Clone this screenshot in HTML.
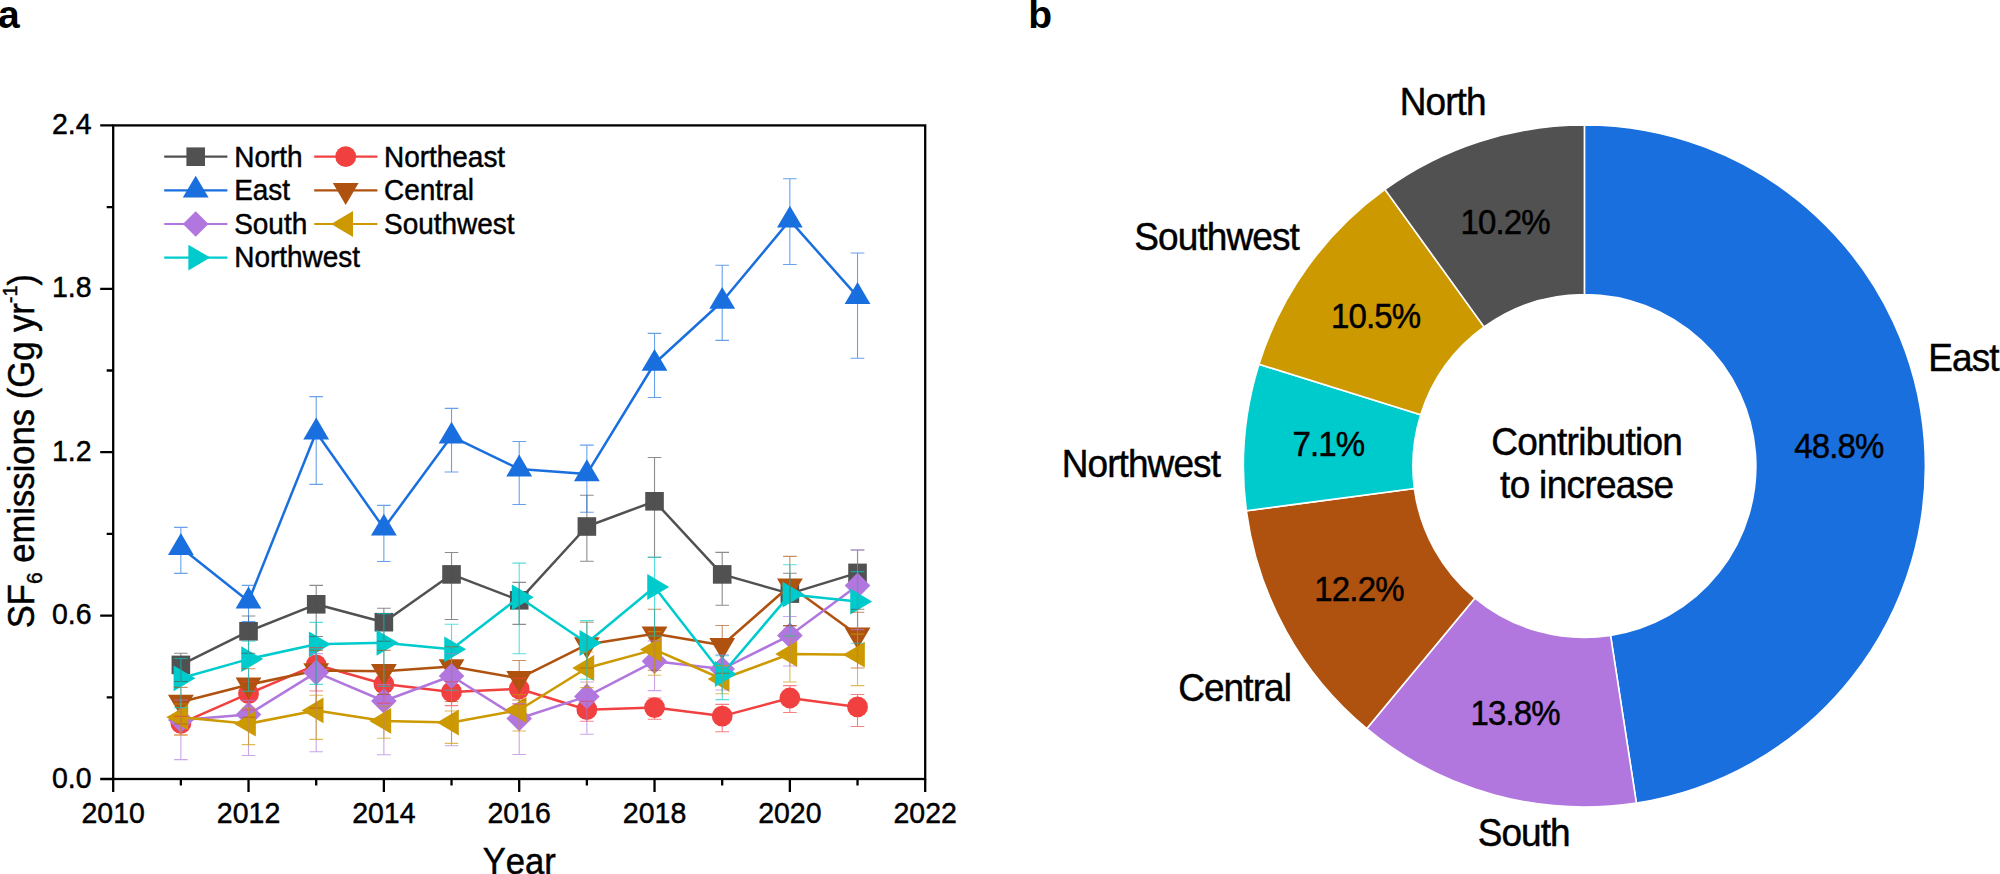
<!DOCTYPE html>
<html lang="en"><head><meta charset="utf-8"><title>SF6 emissions by region</title>
<style>
html,body{margin:0;padding:0;background:#fff;}
body{width:2000px;height:874px;overflow:hidden;}
svg{display:block;}
text{font-family:"Liberation Sans",Arial,Helvetica,sans-serif;fill:#000;font-kerning:none;stroke:#000;stroke-width:0.45px;}
.tk{font-size:28.5px;}
.lg{font-size:27.95px;}
.ax{font-size:34.6px;}
.pl{font-size:39px;font-weight:bold;stroke-width:0;}
.dl{font-size:37px;letter-spacing:-0.9px;}
.pc{font-size:33px;letter-spacing:-0.85px;text-anchor:middle;}
</style></head><body>
<svg width="2000" height="874" viewBox="0 0 2000 874">
<rect width="2000" height="874" fill="#fff"/>
<text class="pl" transform="translate(-1.9 27.7) scale(1 1)">a</text>
<text class="pl" transform="translate(1028.2 27.6) scale(1 1)">b</text>
<g id="chart-a">
<g><polyline points="180.87,664.90 248.53,631.30 316.20,604.30 383.87,622.20 451.53,574.40 519.20,600.30 586.87,526.50 654.53,501.30 722.20,574.40 789.87,593.60 857.53,572.90" fill="none" stroke="#515151" stroke-width="2.5" stroke-linejoin="round"/>
<rect x="171.57" y="655.60" width="18.6" height="18.6" fill="#515151"/>
<rect x="239.23" y="622.00" width="18.6" height="18.6" fill="#515151"/>
<rect x="306.90" y="595.00" width="18.6" height="18.6" fill="#515151"/>
<rect x="374.57" y="612.90" width="18.6" height="18.6" fill="#515151"/>
<rect x="442.23" y="565.10" width="18.6" height="18.6" fill="#515151"/>
<rect x="509.90" y="591.00" width="18.6" height="18.6" fill="#515151"/>
<rect x="577.57" y="517.20" width="18.6" height="18.6" fill="#515151"/>
<rect x="645.23" y="492.00" width="18.6" height="18.6" fill="#515151"/>
<rect x="712.90" y="565.10" width="18.6" height="18.6" fill="#515151"/>
<rect x="780.57" y="584.30" width="18.6" height="18.6" fill="#515151"/>
<rect x="848.23" y="563.60" width="18.6" height="18.6" fill="#515151"/>
</g>
<g><polyline points="180.87,723.40 248.53,693.70 316.20,664.80 383.87,684.00 451.53,691.90 519.20,688.80 586.87,709.70 654.53,707.60 722.20,716.10 789.87,698.00 857.53,706.90" fill="none" stroke="#F14040" stroke-width="2.5" stroke-linejoin="round"/>
<circle cx="180.87" cy="723.40" r="10.4" fill="#F14040"/>
<circle cx="248.53" cy="693.70" r="10.4" fill="#F14040"/>
<circle cx="316.20" cy="664.80" r="10.4" fill="#F14040"/>
<circle cx="383.87" cy="684.00" r="10.4" fill="#F14040"/>
<circle cx="451.53" cy="691.90" r="10.4" fill="#F14040"/>
<circle cx="519.20" cy="688.80" r="10.4" fill="#F14040"/>
<circle cx="586.87" cy="709.70" r="10.4" fill="#F14040"/>
<circle cx="654.53" cy="707.60" r="10.4" fill="#F14040"/>
<circle cx="722.20" cy="716.10" r="10.4" fill="#F14040"/>
<circle cx="789.87" cy="698.00" r="10.4" fill="#F14040"/>
<circle cx="857.53" cy="706.90" r="10.4" fill="#F14040"/>
</g>
<g><polyline points="180.87,547.60 248.53,601.20 316.20,432.20 383.87,528.30 451.53,436.30 519.20,469.10 586.87,473.90 654.53,363.50 722.20,301.50 789.87,220.30 857.53,296.70" fill="none" stroke="#1A6FDF" stroke-width="2.5" stroke-linejoin="round"/>
<polygon points="180.87,533.00 193.77,554.90 167.97,554.90" fill="#1A6FDF"/>
<polygon points="248.53,586.60 261.43,608.50 235.63,608.50" fill="#1A6FDF"/>
<polygon points="316.20,417.60 329.10,439.50 303.30,439.50" fill="#1A6FDF"/>
<polygon points="383.87,513.70 396.77,535.60 370.97,535.60" fill="#1A6FDF"/>
<polygon points="451.53,421.70 464.43,443.60 438.63,443.60" fill="#1A6FDF"/>
<polygon points="519.20,454.50 532.10,476.40 506.30,476.40" fill="#1A6FDF"/>
<polygon points="586.87,459.30 599.77,481.20 573.97,481.20" fill="#1A6FDF"/>
<polygon points="654.53,348.90 667.43,370.80 641.63,370.80" fill="#1A6FDF"/>
<polygon points="722.20,286.90 735.10,308.80 709.30,308.80" fill="#1A6FDF"/>
<polygon points="789.87,205.70 802.77,227.60 776.97,227.60" fill="#1A6FDF"/>
<polygon points="857.53,282.10 870.43,304.00 844.63,304.00" fill="#1A6FDF"/>
</g>
<g><polyline points="180.87,702.00 248.53,684.80 316.20,670.50 383.87,671.30 451.53,666.50 519.20,678.40 586.87,644.60 654.53,633.70 722.20,645.30 789.87,585.70 857.53,634.90" fill="none" stroke="#B0520F" stroke-width="2.5" stroke-linejoin="round"/>
<polygon points="180.87,716.60 193.77,694.70 167.97,694.70" fill="#B0520F"/>
<polygon points="248.53,699.40 261.43,677.50 235.63,677.50" fill="#B0520F"/>
<polygon points="316.20,685.10 329.10,663.20 303.30,663.20" fill="#B0520F"/>
<polygon points="383.87,685.90 396.77,664.00 370.97,664.00" fill="#B0520F"/>
<polygon points="451.53,681.10 464.43,659.20 438.63,659.20" fill="#B0520F"/>
<polygon points="519.20,693.00 532.10,671.10 506.30,671.10" fill="#B0520F"/>
<polygon points="586.87,659.20 599.77,637.30 573.97,637.30" fill="#B0520F"/>
<polygon points="654.53,648.30 667.43,626.40 641.63,626.40" fill="#B0520F"/>
<polygon points="722.20,659.90 735.10,638.00 709.30,638.00" fill="#B0520F"/>
<polygon points="789.87,600.30 802.77,578.40 776.97,578.40" fill="#B0520F"/>
<polygon points="857.53,649.50 870.43,627.60 844.63,627.60" fill="#B0520F"/>
</g>
<g><polyline points="180.87,720.10 248.53,714.50 316.20,672.40 383.87,701.00 451.53,676.00 519.20,718.50 586.87,696.40 654.53,661.30 722.20,669.00 789.87,635.40 857.53,585.60" fill="none" stroke="#B177DE" stroke-width="2.5" stroke-linejoin="round"/>
<polygon points="180.87,707.30 193.67,720.10 180.87,732.90 168.07,720.10" fill="#B177DE"/>
<polygon points="248.53,701.70 261.33,714.50 248.53,727.30 235.73,714.50" fill="#B177DE"/>
<polygon points="316.20,659.60 329.00,672.40 316.20,685.20 303.40,672.40" fill="#B177DE"/>
<polygon points="383.87,688.20 396.67,701.00 383.87,713.80 371.07,701.00" fill="#B177DE"/>
<polygon points="451.53,663.20 464.33,676.00 451.53,688.80 438.73,676.00" fill="#B177DE"/>
<polygon points="519.20,705.70 532.00,718.50 519.20,731.30 506.40,718.50" fill="#B177DE"/>
<polygon points="586.87,683.60 599.67,696.40 586.87,709.20 574.07,696.40" fill="#B177DE"/>
<polygon points="654.53,648.50 667.33,661.30 654.53,674.10 641.73,661.30" fill="#B177DE"/>
<polygon points="722.20,656.20 735.00,669.00 722.20,681.80 709.40,669.00" fill="#B177DE"/>
<polygon points="789.87,622.60 802.67,635.40 789.87,648.20 777.07,635.40" fill="#B177DE"/>
<polygon points="857.53,572.80 870.33,585.60 857.53,598.40 844.73,585.60" fill="#B177DE"/>
</g>
<g><polyline points="180.87,717.30 248.53,723.70 316.20,710.40 383.87,720.90 451.53,722.50 519.20,710.00 586.87,668.00 654.53,649.60 722.20,679.00 789.87,654.00 857.53,654.70" fill="none" stroke="#CC9900" stroke-width="2.5" stroke-linejoin="round"/>
<polygon points="166.27,717.30 188.17,704.40 188.17,730.20" fill="#CC9900"/>
<polygon points="233.93,723.70 255.83,710.80 255.83,736.60" fill="#CC9900"/>
<polygon points="301.60,710.40 323.50,697.50 323.50,723.30" fill="#CC9900"/>
<polygon points="369.27,720.90 391.17,708.00 391.17,733.80" fill="#CC9900"/>
<polygon points="436.93,722.50 458.83,709.60 458.83,735.40" fill="#CC9900"/>
<polygon points="504.60,710.00 526.50,697.10 526.50,722.90" fill="#CC9900"/>
<polygon points="572.27,668.00 594.17,655.10 594.17,680.90" fill="#CC9900"/>
<polygon points="639.93,649.60 661.83,636.70 661.83,662.50" fill="#CC9900"/>
<polygon points="707.60,679.00 729.50,666.10 729.50,691.90" fill="#CC9900"/>
<polygon points="775.27,654.00 797.17,641.10 797.17,666.90" fill="#CC9900"/>
<polygon points="842.93,654.70 864.83,641.80 864.83,667.60" fill="#CC9900"/>
</g>
<g><polyline points="180.87,678.30 248.53,659.10 316.20,644.30 383.87,642.80 451.53,649.30 519.20,597.30 586.87,643.00 654.53,587.00 722.20,674.00 789.87,594.60 857.53,601.50" fill="none" stroke="#00CBCC" stroke-width="2.5" stroke-linejoin="round"/>
<polygon points="195.47,678.30 173.57,665.40 173.57,691.20" fill="#00CBCC"/>
<polygon points="263.13,659.10 241.23,646.20 241.23,672.00" fill="#00CBCC"/>
<polygon points="330.80,644.30 308.90,631.40 308.90,657.20" fill="#00CBCC"/>
<polygon points="398.47,642.80 376.57,629.90 376.57,655.70" fill="#00CBCC"/>
<polygon points="466.13,649.30 444.23,636.40 444.23,662.20" fill="#00CBCC"/>
<polygon points="533.80,597.30 511.90,584.40 511.90,610.20" fill="#00CBCC"/>
<polygon points="601.47,643.00 579.57,630.10 579.57,655.90" fill="#00CBCC"/>
<polygon points="669.13,587.00 647.23,574.10 647.23,599.90" fill="#00CBCC"/>
<polygon points="736.80,674.00 714.90,661.10 714.90,686.90" fill="#00CBCC"/>
<polygon points="804.47,594.60 782.57,581.70 782.57,607.50" fill="#00CBCC"/>
<polygon points="872.13,601.50 850.23,588.60 850.23,614.40" fill="#00CBCC"/>
</g>
<g stroke="#515151" stroke-width="1.1" stroke-opacity="0.66" fill="none">
<path d="M180.87 653.30V681.50M174.07 653.30H187.67M174.07 681.50H187.67"/>
<path d="M248.53 616.00V653.20M241.73 616.00H255.33M241.73 653.20H255.33"/>
<path d="M316.20 585.40V636.50M309.40 585.40H323.00M309.40 636.50H323.00"/>
<path d="M383.87 608.30V641.30M377.07 608.30H390.67M377.07 641.30H390.67"/>
<path d="M451.53 552.50V619.50M444.73 552.50H458.33M444.73 619.50H458.33"/>
<path d="M519.20 582.40V624.40M512.40 582.40H526.00M512.40 624.40H526.00"/>
<path d="M586.87 495.20V561.30M580.07 495.20H593.67M580.07 561.30H593.67"/>
<path d="M654.53 457.50V557.30M647.73 457.50H661.33M647.73 557.30H661.33"/>
<path d="M722.20 552.40V605.30M715.40 552.40H729.00M715.40 605.30H729.00"/>
<path d="M789.87 573.20V625.60M783.07 573.20H796.67M783.07 625.60H796.67"/>
<path d="M857.53 550.00V609.30M850.73 550.00H864.33M850.73 609.30H864.33"/>
</g>
<g stroke="#F14040" stroke-width="1.1" stroke-opacity="0.66" fill="none">
<path d="M180.87 716.40V735.00M174.07 716.40H187.67M174.07 735.00H187.67"/>
<path d="M248.53 681.50V710.00M241.73 681.50H255.33M241.73 710.00H255.33"/>
<path d="M316.20 647.60V691.00M309.40 647.60H323.00M309.40 691.00H323.00"/>
<path d="M383.87 669.30V703.20M377.07 669.30H390.67M377.07 703.20H390.67"/>
<path d="M451.53 681.70V705.60M444.73 681.70H458.33M444.73 705.60H458.33"/>
<path d="M519.20 678.40V704.00M512.40 678.40H526.00M512.40 704.00H526.00"/>
<path d="M586.87 701.30V721.20M580.07 701.30H593.67M580.07 721.20H593.67"/>
<path d="M654.53 698.00V719.30M647.73 698.00H661.33M647.73 719.30H661.33"/>
<path d="M722.20 704.40V731.80M715.40 704.40H729.00M715.40 731.80H729.00"/>
<path d="M789.87 685.60V712.50M783.07 685.60H796.67M783.07 712.50H796.67"/>
<path d="M857.53 694.50V726.50M850.73 694.50H864.33M850.73 726.50H864.33"/>
</g>
<g stroke="#1A6FDF" stroke-width="1.1" stroke-opacity="0.66" fill="none">
<path d="M180.87 527.40V573.40M174.07 527.40H187.67M174.07 573.40H187.67"/>
<path d="M248.53 585.40V621.60M241.73 585.40H255.33M241.73 621.60H255.33"/>
<path d="M316.20 396.60V484.40M309.40 396.60H323.00M309.40 484.40H323.00"/>
<path d="M383.87 505.40V561.50M377.07 505.40H390.67M377.07 561.50H390.67"/>
<path d="M451.53 408.40V472.00M444.73 408.40H458.33M444.73 472.00H458.33"/>
<path d="M519.20 441.50V504.50M512.40 441.50H526.00M512.40 504.50H526.00"/>
<path d="M586.87 445.10V512.20M580.07 445.10H593.67M580.07 512.20H593.67"/>
<path d="M654.53 333.40V397.50M647.73 333.40H661.33M647.73 397.50H661.33"/>
<path d="M722.20 265.20V340.40M715.40 265.20H729.00M715.40 340.40H729.00"/>
<path d="M789.87 178.70V264.50M783.07 178.70H796.67M783.07 264.50H796.67"/>
<path d="M857.53 253.00V358.20M850.73 253.00H864.33M850.73 358.20H864.33"/>
</g>
<g stroke="#B0520F" stroke-width="1.1" stroke-opacity="0.66" fill="none">
<path d="M180.87 687.40V724.00M174.07 687.40H187.67M174.07 724.00H187.67"/>
<path d="M248.53 668.70V717.30M241.73 668.70H255.33M241.73 717.30H255.33"/>
<path d="M316.20 650.40V708.00M309.40 650.40H323.00M309.40 708.00H323.00"/>
<path d="M383.87 650.40V694.40M377.07 650.40H390.67M377.07 694.40H390.67"/>
<path d="M451.53 646.80V701.50M444.73 646.80H458.33M444.73 701.50H458.33"/>
<path d="M519.20 660.50V700.00M512.40 660.50H526.00M512.40 700.00H526.00"/>
<path d="M586.87 622.20V668.00M580.07 622.20H593.67M580.07 668.00H593.67"/>
<path d="M654.53 609.30V670.30M647.73 609.30H661.33M647.73 670.30H661.33"/>
<path d="M722.20 625.50V673.30M715.40 625.50H729.00M715.40 673.30H729.00"/>
<path d="M789.87 556.40V625.60M783.07 556.40H796.67M783.07 625.60H796.67"/>
<path d="M857.53 612.20V668.00M850.73 612.20H864.33M850.73 668.00H864.33"/>
</g>
<g stroke="#B177DE" stroke-width="1.1" stroke-opacity="0.66" fill="none">
<path d="M180.87 700.00V759.60M174.07 700.00H187.67M174.07 759.60H187.67"/>
<path d="M248.53 700.40V755.50M241.73 700.40H255.33M241.73 755.50H255.33"/>
<path d="M316.20 653.60V751.80M309.40 653.60H323.00M309.40 751.80H323.00"/>
<path d="M383.87 684.50V754.70M377.07 684.50H390.67M377.07 754.70H390.67"/>
<path d="M451.53 653.70V745.70M444.73 653.70H458.33M444.73 745.70H458.33"/>
<path d="M519.20 703.60V754.50M512.40 703.60H526.00M512.40 754.50H526.00"/>
<path d="M586.87 682.00V734.20M580.07 682.00H593.67M580.07 734.20H593.67"/>
<path d="M654.53 640.90V690.60M647.73 640.90H661.33M647.73 690.60H661.33"/>
<path d="M722.20 654.70V690.00M715.40 654.70H729.00M715.40 690.00H729.00"/>
<path d="M789.87 616.50V666.00M783.07 616.50H796.67M783.07 666.00H796.67"/>
<path d="M857.53 550.00V629.60M850.73 550.00H864.33M850.73 629.60H864.33"/>
</g>
<g stroke="#CC9900" stroke-width="1.1" stroke-opacity="0.66" fill="none">
<path d="M180.87 704.00V735.00M174.07 704.00H187.67M174.07 735.00H187.67"/>
<path d="M248.53 708.00V744.60M241.73 708.00H255.33M241.73 744.60H255.33"/>
<path d="M316.20 695.30V739.40M309.40 695.30H323.00M309.40 739.40H323.00"/>
<path d="M383.87 706.00V738.30M377.07 706.00H390.67M377.07 738.30H390.67"/>
<path d="M451.53 711.00V743.40M444.73 711.00H458.33M444.73 743.40H458.33"/>
<path d="M519.20 694.50V731.00M512.40 694.50H526.00M512.40 731.00H526.00"/>
<path d="M586.87 652.00V687.60M580.07 652.00H593.67M580.07 687.60H593.67"/>
<path d="M654.53 631.60V675.20M647.73 631.60H661.33M647.73 675.20H661.33"/>
<path d="M722.20 665.60V693.70M715.40 665.60H729.00M715.40 693.70H729.00"/>
<path d="M789.87 636.00V682.00M783.07 636.00H796.67M783.07 682.00H796.67"/>
<path d="M857.53 634.10V685.60M850.73 634.10H864.33M850.73 685.60H864.33"/>
</g>
<g stroke="#00CBCC" stroke-width="1.1" stroke-opacity="0.66" fill="none">
<path d="M180.87 658.50V707.60M174.07 658.50H187.67M174.07 707.60H187.67"/>
<path d="M248.53 641.20V691.30M241.73 641.20H255.33M241.73 691.30H255.33"/>
<path d="M316.20 622.40V684.40M309.40 622.40H323.00M309.40 684.40H323.00"/>
<path d="M383.87 613.60V686.30M377.07 613.60H390.67M377.07 686.30H390.67"/>
<path d="M451.53 624.30V690.30M444.73 624.30H458.33M444.73 690.30H458.33"/>
<path d="M519.20 563.10V653.70M512.40 563.10H526.00M512.40 653.70H526.00"/>
<path d="M586.87 620.60V679.20M580.07 620.60H593.67M580.07 679.20H593.67"/>
<path d="M654.53 557.30V636.00M647.73 557.30H661.33M647.73 636.00H661.33"/>
<path d="M722.20 655.70V699.60M715.40 655.70H729.00M715.40 699.60H729.00"/>
<path d="M789.87 564.70V636.00M783.07 564.70H796.67M783.07 636.00H796.67"/>
<path d="M857.53 571.60V643.30M850.73 571.60H864.33M850.73 643.30H864.33"/>
</g>
<rect x="113.2" y="125.4" width="812.0" height="653.6" fill="none" stroke="#000" stroke-width="2.3"/>
<path d="M113.2 779.00h-13M113.2 697.30h-6.5M113.2 615.60h-13M113.2 533.90h-6.5M113.2 452.20h-13M113.2 370.50h-6.5M113.2 288.80h-13M113.2 207.10h-6.5M113.2 125.40h-13M113.20 779.0v13M180.87 779.0v6.5M248.53 779.0v13M316.20 779.0v6.5M383.87 779.0v13M451.53 779.0v6.5M519.20 779.0v13M586.87 779.0v6.5M654.53 779.0v13M722.20 779.0v6.5M789.87 779.0v13M857.53 779.0v6.5M925.20 779.0v13" stroke="#000" stroke-width="2.3" fill="none"/>
<text class="tk" transform="translate(91.6 787.6) scale(1 1.042)" text-anchor="end">0.0</text>
<text class="tk" transform="translate(91.6 624.2) scale(1 1.042)" text-anchor="end">0.6</text>
<text class="tk" transform="translate(91.6 460.8) scale(1 1.042)" text-anchor="end">1.2</text>
<text class="tk" transform="translate(91.6 297.4) scale(1 1.042)" text-anchor="end">1.8</text>
<text class="tk" transform="translate(91.6 134.0) scale(1 1.042)" text-anchor="end">2.4</text>
<text class="tk" transform="translate(113.2 822.8) scale(1 1.042)" text-anchor="middle">2010</text>
<text class="tk" transform="translate(248.53 822.8) scale(1 1.042)" text-anchor="middle">2012</text>
<text class="tk" transform="translate(383.87 822.8) scale(1 1.042)" text-anchor="middle">2014</text>
<text class="tk" transform="translate(519.2 822.8) scale(1 1.042)" text-anchor="middle">2016</text>
<text class="tk" transform="translate(654.53 822.8) scale(1 1.042)" text-anchor="middle">2018</text>
<text class="tk" transform="translate(789.87 822.8) scale(1 1.042)" text-anchor="middle">2020</text>
<text class="tk" transform="translate(925.2 822.8) scale(1 1.042)" text-anchor="middle">2022</text>
<text class="ax" transform="translate(519.2 874.0) scale(1 1.042)" text-anchor="middle">Year</text>
<text class="ax" transform="translate(33.5 628.2) rotate(-90) scale(1 1.042)">SF<tspan font-size="21" dy="8.4">6</tspan><tspan dy="-8.4"> emissions (Gg yr</tspan><tspan font-size="20" dy="-15.8">-1</tspan><tspan dy="15.8">)</tspan></text>
<path d="M164.2 156.7H227.39999999999998" stroke="#515151" stroke-width="2.2"/>
<rect x="186.40" y="147.40" width="18.6" height="18.6" fill="#515151"/>
<text class="lg" transform="translate(234.2 166.5) scale(1 1.042)">North</text>
<path d="M314.2 156.7H377.4" stroke="#F14040" stroke-width="2.2"/>
<circle cx="345.70" cy="156.70" r="10.4" fill="#F14040"/>
<text class="lg" transform="translate(384.0 166.5) scale(1 1.042)">Northeast</text>
<path d="M164.2 190.3H227.39999999999998" stroke="#1A6FDF" stroke-width="2.2"/>
<polygon points="195.70,175.70 208.60,197.60 182.80,197.60" fill="#1A6FDF"/>
<text class="lg" transform="translate(234.2 200.1) scale(1 1.042)">East</text>
<path d="M314.2 190.3H377.4" stroke="#B0520F" stroke-width="2.2"/>
<polygon points="345.70,204.90 358.60,183.00 332.80,183.00" fill="#B0520F"/>
<text class="lg" transform="translate(384.0 200.1) scale(1 1.042)">Central</text>
<path d="M164.2 224.0H227.39999999999998" stroke="#B177DE" stroke-width="2.2"/>
<polygon points="195.70,211.20 208.50,224.00 195.70,236.80 182.90,224.00" fill="#B177DE"/>
<text class="lg" transform="translate(234.2 233.8) scale(1 1.042)">South</text>
<path d="M314.2 224.0H377.4" stroke="#CC9900" stroke-width="2.2"/>
<polygon points="331.10,224.00 353.00,211.10 353.00,236.90" fill="#CC9900"/>
<text class="lg" transform="translate(384.0 233.8) scale(1 1.042)">Southwest</text>
<path d="M164.2 257.6H227.39999999999998" stroke="#00CBCC" stroke-width="2.2"/>
<polygon points="210.30,257.60 188.40,244.70 188.40,270.50" fill="#00CBCC"/>
<text class="lg" transform="translate(234.2 267.4) scale(1 1.042)">Northwest</text>
</g>
<g id="chart-b">
<path d="M1584.40 125.00A341.0 341.0 0 0 1 1636.40 803.01L1610.55 635.49A171.5 171.5 0 0 0 1584.40 294.50Z" fill="#1A6FDF" stroke="#fff" stroke-width="1.6" stroke-linejoin="miter"/>
<path d="M1636.40 803.01A341.0 341.0 0 0 1 1366.81 728.56L1474.97 598.05A171.5 171.5 0 0 0 1610.55 635.49Z" fill="#B177DE" stroke="#fff" stroke-width="1.6" stroke-linejoin="miter"/>
<path d="M1366.81 728.56A341.0 341.0 0 0 1 1246.35 510.77L1414.38 488.52A171.5 171.5 0 0 0 1474.97 598.05Z" fill="#B0520F" stroke="#fff" stroke-width="1.6" stroke-linejoin="miter"/>
<path d="M1246.35 510.77A341.0 341.0 0 0 1 1258.95 364.21L1420.72 414.80A171.5 171.5 0 0 0 1414.38 488.52Z" fill="#00CBCC" stroke="#fff" stroke-width="1.6" stroke-linejoin="miter"/>
<path d="M1258.95 364.21A341.0 341.0 0 0 1 1384.98 189.39L1484.11 326.88A171.5 171.5 0 0 0 1420.72 414.80Z" fill="#CC9900" stroke="#fff" stroke-width="1.6" stroke-linejoin="miter"/>
<path d="M1384.98 189.39A341.0 341.0 0 0 1 1584.40 125.00L1584.40 294.50A171.5 171.5 0 0 0 1484.11 326.88Z" fill="#515151" stroke="#fff" stroke-width="1.6" stroke-linejoin="miter"/>
<text class="pc" transform="translate(1838.9 458.25) scale(1 1.042)">48.8%</text>
<text class="pc" transform="translate(1515.2 725) scale(1 1.042)">13.8%</text>
<text class="pc" transform="translate(1359 601.25) scale(1 1.042)">12.2%</text>
<text class="pc" transform="translate(1328.4 455.5) scale(1 1.042)">7.1%</text>
<text class="pc" transform="translate(1375.6 328) scale(1 1.042)">10.5%</text>
<text class="pc" transform="translate(1505.2 233.75) scale(1 1.042)">10.2%</text>
<text class="dl" transform="translate(1399.69 114.5) scale(1 1.042)">North</text>
<text class="dl" transform="translate(1134.34 250) scale(1 1.042)">Southwest</text>
<text class="dl" transform="translate(1061.69 476.5) scale(1 1.042)">Northwest</text>
<text class="dl" transform="translate(1178.15 700.5) scale(1 1.042)">Central</text>
<text class="dl" transform="translate(1477.63 846.1) scale(1 1.042)">South</text>
<text class="dl" transform="translate(1928.33 371.25) scale(1 1.042)">East</text>
<text class="dl" transform="translate(1586.7 455.2) scale(1 1.042)" text-anchor="middle" style="letter-spacing:-0.7px">Contribution</text>
<text class="dl" transform="translate(1586.7 498.2) scale(1 1.042)" text-anchor="middle" style="letter-spacing:-0.7px">to increase</text>
</g>
</svg></body></html>
